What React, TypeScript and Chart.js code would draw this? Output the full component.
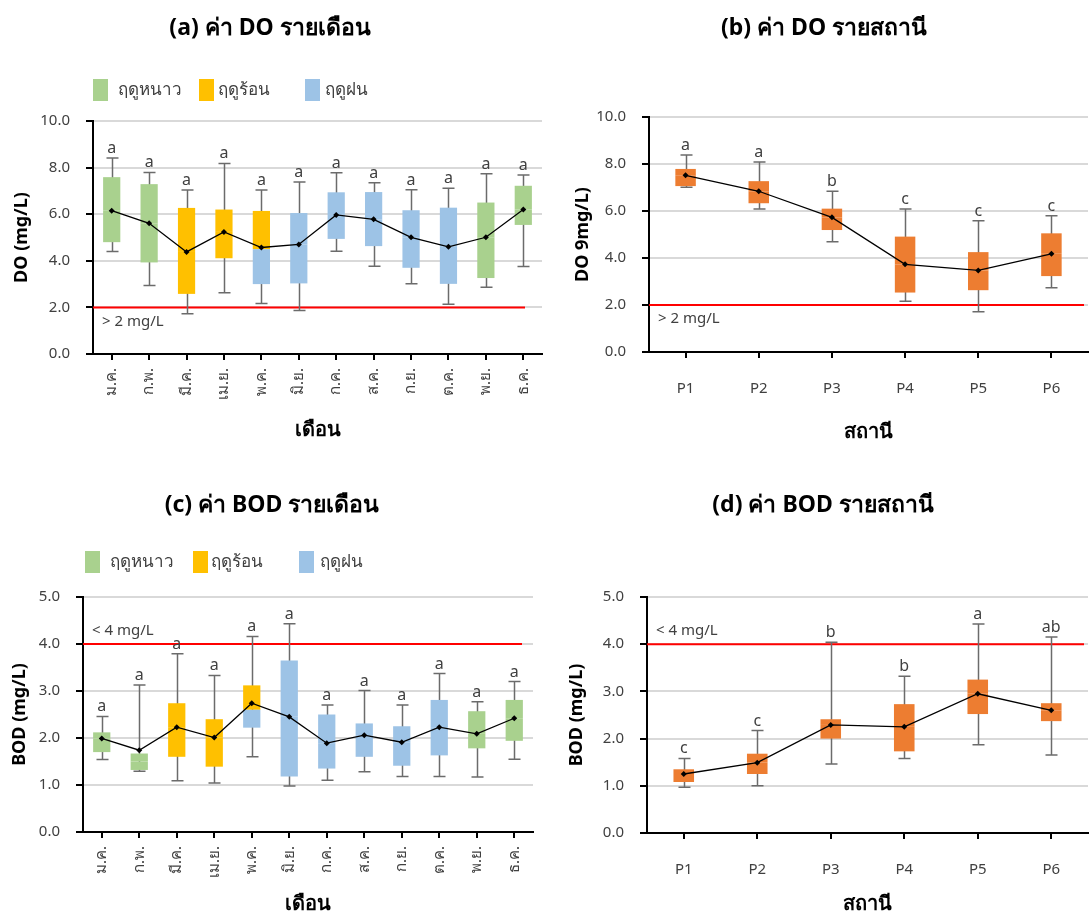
import React, { useEffect, useRef } from 'react';
import { Chart, registerables } from 'chart.js';

Chart.register(...registerables);

const FONT = "'Noto Sans', 'DejaVu Sans', sans-serif";
Chart.defaults.font.family = FONT;

// ---------- categories ----------
const months = ['ม.ค.', 'ก.พ.', 'มี.ค.', 'เม.ย.', 'พ.ค.', 'มิ.ย.', 'ก.ค.', 'ส.ค.', 'ก.ย.', 'ต.ค.', 'พ.ย.', 'ธ.ค.'];
const stations = ['P1', 'P2', 'P3', 'P4', 'P5', 'P6'];

// season of the lower half (Q1..split) and upper half (split..Q3) of each monthly box
const monthLowerSeason = ['cool', 'cool', 'hot', 'hot', 'rain', 'rain', 'rain', 'rain', 'rain', 'rain', 'cool', 'cool'];
const monthUpperSeason = ['cool', 'cool', 'hot', 'hot', 'hot', 'rain', 'rain', 'rain', 'rain', 'rain', 'cool', 'cool'];
const seasonNames = ['ฤดูหนาว', 'ฤดูร้อน', 'ฤดูฝน'];
const seasonKeys = ['cool', 'hot', 'rain'];

// ---------- (a) DO by month ----------
const doMonthMin = [4.40, 2.94, 1.73, 2.63, 2.17, 1.87, 4.41, 3.77, 3.01, 2.13, 2.87, 3.76];
const doMonthQ1 = [4.80, 3.93, 2.58, 4.11, 3.00, 3.03, 4.94, 4.63, 3.70, 3.01, 3.26, 5.54];
const doMonthSplit = [6.15, 5.61, 4.38, 5.24, 4.50, 4.70, 5.97, 5.78, 5.01, 4.60, 5.01, 6.20];
const doMonthQ3 = [7.59, 7.29, 6.27, 6.20, 6.14, 6.05, 6.94, 6.95, 6.17, 6.28, 6.50, 7.22];
const doMonthMax = [8.41, 7.79, 7.04, 8.18, 7.04, 7.38, 7.78, 7.35, 7.05, 7.11, 7.74, 7.68];
const doMonthMean = [6.15, 5.61, 4.38, 5.24, 4.57, 4.70, 5.97, 5.78, 5.01, 4.60, 5.01, 6.20];
const doMonthLetters = ['a', 'a', 'a', 'a', 'a', 'a', 'a', 'a', 'a', 'a', 'a', 'a'];

// ---------- (b) DO by station ----------
const doStationMin = [7.01, 6.09, 4.69, 2.16, 1.71, 2.73];
const doStationQ1 = [7.06, 6.33, 5.19, 2.53, 2.63, 3.23];
const doStationQ3 = [7.79, 7.27, 6.10, 4.91, 4.25, 5.05];
const doStationMax = [8.38, 8.08, 6.84, 6.09, 5.59, 5.80];
const doStationMean = [7.52, 6.84, 5.73, 3.73, 3.47, 4.18];
const doStationLetters = ['a', 'a', 'b', 'c', 'c', 'c'];

// ---------- (c) BOD by month ----------
const bodMonthMin = [1.54, 1.29, 1.09, 1.04, 1.60, 0.98, 1.10, 1.28, 1.18, 1.18, 1.17, 1.55];
const bodMonthQ1 = [1.70, 1.32, 1.60, 1.39, 2.22, 1.18, 1.35, 1.60, 1.41, 1.63, 1.78, 1.94];
const bodMonthSplit = [1.99, 1.50, 2.23, 2.01, 2.60, 2.45, 1.89, 2.06, 1.91, 2.23, 2.09, 2.42];
const bodMonthQ3 = [2.12, 1.67, 2.74, 2.40, 3.12, 3.65, 2.50, 2.31, 2.25, 2.81, 2.57, 2.81];
const bodMonthMax = [2.46, 3.13, 3.79, 3.33, 4.16, 4.43, 2.70, 3.01, 2.70, 3.37, 2.77, 3.20];
const bodMonthMean = [1.99, 1.74, 2.23, 2.01, 2.74, 2.45, 1.89, 2.06, 1.91, 2.23, 2.09, 2.42];
const bodMonthLetters = ['a', 'a', 'a', 'a', 'a', 'a', 'a', 'a', 'a', 'a', 'a', 'a'];

// ---------- (d) BOD by station ----------
const bodStationMin = [0.97, 1.00, 1.46, 1.58, 1.87, 1.65];
const bodStationQ1 = [1.08, 1.25, 2.00, 1.73, 2.52, 2.37];
const bodStationQ3 = [1.35, 1.68, 2.41, 2.73, 3.25, 2.75];
const bodStationMax = [1.58, 2.17, 4.04, 3.32, 4.43, 4.15];
const bodStationMean = [1.25, 1.49, 2.29, 2.25, 2.95, 2.60];
const bodStationLetters = ['c', 'c', 'b', 'b', 'a', 'ab'];

// ---------- styles ----------
const SEASON_COLOR: Record<string, string> = { cool: '#A9D18E', hot: '#FFC000', rain: '#9DC3E6' };
const ORANGE = '#ED7D31';
const TICK_COLOR = '#404040';

const boxPlugin = {
  id: 'boxExtras',
  beforeDatasetsDraw(chart: any, _args: any, o: any) {
    const { ctx, chartArea, scales } = chart;
    const x = scales.x, y = scales.y;
    ctx.save();
    // reference line
    const yr = y.getPixelForValue(o.refValue);
    ctx.strokeStyle = '#FF0000';
    ctx.lineWidth = 2;
    ctx.beginPath();
    ctx.moveTo(chartArea.left, yr);
    ctx.lineTo(chartArea.right - o.refGap, yr);
    ctx.stroke();
    ctx.fillStyle = TICK_COLOR;
    ctx.font = `15px ${FONT}`;
    ctx.textAlign = 'left';
    ctx.textBaseline = 'middle';
    ctx.fillText(o.refLabel, chartArea.left + 9, o.refAbove ? yr - 13 : yr + 14);
    // whiskers
    ctx.strokeStyle = '#6b6b6b';
    ctx.lineWidth = 1.5;
    o.min.forEach((mn: number, i: number) => {
      const px = Math.round(x.getPixelForValue(i)) + 0.5;
      const y1 = y.getPixelForValue(mn);
      const y2 = y.getPixelForValue(o.max[i]);
      ctx.beginPath();
      ctx.moveTo(px, y1);
      ctx.lineTo(px, y2);
      ctx.moveTo(px - o.cap, y1);
      ctx.lineTo(px + o.cap, y1);
      ctx.moveTo(px - o.cap, y2);
      ctx.lineTo(px + o.cap, y2);
      ctx.stroke();
    });
    ctx.restore();
  },
  afterDatasetsDraw(chart: any, _args: any, o: any) {
    const { ctx, scales } = chart;
    const x = scales.x, y = scales.y;
    ctx.save();
    ctx.fillStyle = TICK_COLOR;
    ctx.font = `16px ${FONT}`;
    ctx.textAlign = 'center';
    ctx.textBaseline = 'alphabetic';
    o.letters.forEach((t: string, i: number) => {
      ctx.fillText(t, x.getPixelForValue(i), y.getPixelForValue(o.max[i]) - 5);
    });
    ctx.restore();
  },
  afterDraw(chart: any, _args: any, o: any) {
    const { ctx } = chart;
    ctx.save();
    ctx.fillStyle = '#000';
    ctx.font = `bold 23px ${FONT}`;
    ctx.textAlign = 'center';
    ctx.textBaseline = 'middle';
    ctx.fillText(o.title, o.titleX, o.titleY);
    if (o.legend) {
      ctx.font = `17px ${FONT}`;
      ctx.textAlign = 'left';
      seasonKeys.forEach((k, i) => {
        const lx = o.legend.x[i];
        ctx.fillStyle = SEASON_COLOR[k];
        ctx.fillRect(lx, o.legend.y - 11, 15, 22);
        ctx.fillStyle = TICK_COLOR;
        ctx.fillText(seasonNames[i], lx + o.legend.textGap[i], o.legend.y);
      });
    }
    ctx.restore();
  },
};

type Spec = {
  labels: string[];
  q1: number[];
  split: number[];
  q3: number[];
  min: number[];
  max: number[];
  mean: number[];
  letters: string[];
  lowerColors: string[];
  upperColors: string[];
  yMax: number;
  yStep: number;
  yTitle: string;
  xTitle: string;
  rotate: boolean;
  barPct: number;
  cap: number;
  refValue: number;
  refLabel: string;
  refAbove: boolean;
  refGap: number;
  title: string;
  titleX: number;
  titleY: number;
  legend?: any;
  pad: { right: number; top: number };
  yWidth: number;
  xHeight: number;
  yTitlePad: number;
  xTitlePad: number;
  xTickPad: number;
};

function buildConfig(s: Spec): any {
  const lower = s.labels.map((_, i) => [s.q1[i], s.split[i]]);
  const upper = s.labels.map((_, i) => [s.split[i], s.q3[i]]);
  return {
    type: 'bar',
    data: {
      labels: s.labels,
      datasets: [
        {
          type: 'line',
          data: s.mean,
          borderColor: '#000',
          borderWidth: 1.3,
          pointRadius: 3,
          pointStyle: 'rectRot',
          pointBackgroundColor: '#000',
          pointBorderColor: '#000',
          pointBorderWidth: 0,
          order: 0,
        },
        {
          type: 'bar',
          data: lower,
          backgroundColor: s.lowerColors,
          barPercentage: s.barPct,
          categoryPercentage: 1,
          grouped: false,
          order: 1,
        },
        {
          type: 'bar',
          data: upper,
          backgroundColor: s.upperColors,
          barPercentage: s.barPct,
          categoryPercentage: 1,
          grouped: false,
          order: 1,
        },
      ],
    },
    options: {
      animation: false,
      responsive: true,
      maintainAspectRatio: false,
      layout: { padding: { left: 0, right: s.pad.right, top: s.pad.top, bottom: 0 } },
      plugins: {
        legend: { display: false },
        tooltip: { enabled: false },
        title: { display: false },
        boxExtras: {
          min: s.min,
          max: s.max,
          letters: s.letters,
          cap: s.cap,
          refValue: s.refValue,
          refLabel: s.refLabel,
          refAbove: s.refAbove,
          refGap: s.refGap,
          title: s.title,
          titleX: s.titleX,
          titleY: s.titleY,
          legend: s.legend,
        },
      },
      scales: {
        x: {
          offset: true,
          grid: { drawOnChartArea: false, offset: false, tickLength: 6, tickColor: '#000', lineWidth: 2 },
          border: { color: '#000', width: 2 },
          ticks: {
            color: TICK_COLOR,
            font: { size: 15 },
            padding: s.xTickPad,
            autoSkip: false,
            maxRotation: s.rotate ? 90 : 0,
            minRotation: s.rotate ? 90 : 0,
          },
          title: {
            display: true,
            text: s.xTitle,
            color: '#000',
            font: { size: 20, weight: 'bold' },
            padding: { top: 0, bottom: s.xTitlePad },
          },
          afterFit: (sc: any) => {
            sc.height = s.xHeight;
            sc.paddingLeft = 0;
            sc.paddingRight = 0;
          },
        },
        y: {
          min: 0,
          max: s.yMax,
          grid: { color: '#D9D9D9', lineWidth: 2, tickLength: 7, tickColor: '#000' },
          border: { color: '#000', width: 2 },
          ticks: {
            stepSize: s.yStep,
            color: TICK_COLOR,
            font: { size: 15 },
            padding: 16,
            callback: (v: any) => Number(v).toFixed(1),
          },
          title: {
            display: true,
            text: s.yTitle,
            color: '#000',
            font: { size: 18, weight: 'bold' },
            padding: { top: s.yTitlePad, bottom: 0 },
          },
          afterFit: (sc: any) => {
            sc.width = s.yWidth;
            sc.paddingTop = 0;
            sc.paddingBottom = 0;
          },
        },
      },
    },
    plugins: [boxPlugin],
  };
}

const orange6 = stations.map(() => ORANGE);

const specA: Spec = {
  labels: months,
  q1: doMonthQ1,
  split: doMonthSplit,
  q3: doMonthQ3,
  min: doMonthMin,
  max: doMonthMax,
  mean: doMonthMean,
  letters: doMonthLetters,
  lowerColors: monthLowerSeason.map((k) => SEASON_COLOR[k]),
  upperColors: monthUpperSeason.map((k) => SEASON_COLOR[k]),
  yMax: 10,
  yStep: 2,
  yTitle: 'DO (mg/L)',
  xTitle: 'เดือน',
  rotate: true,
  barPct: 0.46,
  cap: 6,
  refValue: 2,
  refLabel: '> 2 mg/L',
  refAbove: false,
  refGap: 17,
  title: '(a) ค่า DO รายเดือน',
  titleX: 270,
  titleY: 28,
  legend: { x: [93, 199, 305], y: 90, textGap: [25, 19, 20] },
  pad: { right: 1, top: 121 },
  yWidth: 93,
  xHeight: 105,
  yTitlePad: 11,
  xTitlePad: 17,
  xTickPad: 8,
};

const specB: Spec = {
  labels: stations,
  q1: doStationQ1,
  split: doStationMean,
  q3: doStationQ3,
  min: doStationMin,
  max: doStationMax,
  mean: doStationMean,
  letters: doStationLetters,
  lowerColors: orange6,
  upperColors: orange6,
  yMax: 10,
  yStep: 2,
  yTitle: 'DO 9mg/L)',
  xTitle: 'สถานี',
  rotate: false,
  barPct: 0.28,
  cap: 6,
  refValue: 2,
  refLabel: '> 2 mg/L',
  refAbove: false,
  refGap: 4,
  title: '(b) ค่า DO รายสถานี',
  titleX: 278,
  titleY: 28,
  pad: { right: 3, top: 117 },
  yWidth: 103,
  xHeight: 107,
  yTitlePad: 26,
  xTitlePad: 15,
  xTickPad: 22,
};

const specC: Spec = {
  labels: months,
  q1: bodMonthQ1,
  split: bodMonthSplit,
  q3: bodMonthQ3,
  min: bodMonthMin,
  max: bodMonthMax,
  mean: bodMonthMean,
  letters: bodMonthLetters,
  lowerColors: monthLowerSeason.map((k) => SEASON_COLOR[k]),
  upperColors: monthUpperSeason.map((k) => SEASON_COLOR[k]),
  yMax: 5,
  yStep: 1,
  yTitle: 'BOD (mg/L)',
  xTitle: 'เดือน',
  rotate: true,
  barPct: 0.46,
  cap: 6,
  refValue: 4,
  refLabel: '< 4 mg/L',
  refAbove: true,
  refGap: 11,
  title: '(c) ค่า BOD รายเดือน',
  titleX: 272,
  titleY: 46,
  legend: { x: [85, 193, 299], y: 103, textGap: [25, 18, 21] },
  pad: { right: 13, top: 138 },
  yWidth: 83,
  xHeight: 86,
  yTitlePad: 9,
  xTitlePad: 2,
  xTickPad: 8,
};

const specD: Spec = {
  labels: stations,
  q1: bodStationQ1,
  split: bodStationMean,
  q3: bodStationQ3,
  min: bodStationMin,
  max: bodStationMax,
  mean: bodStationMean,
  letters: bodStationLetters,
  lowerColors: orange6,
  upperColors: orange6,
  yMax: 5,
  yStep: 1,
  yTitle: 'BOD (mg/L)',
  xTitle: 'สถานี',
  rotate: false,
  barPct: 0.28,
  cap: 6,
  refValue: 4,
  refLabel: '< 4 mg/L',
  refAbove: true,
  refGap: 4,
  title: '(d) ค่า BOD รายสถานี',
  titleX: 277,
  titleY: 46,
  pad: { right: 0, top: 138 },
  yWidth: 101,
  xHeight: 85,
  yTitlePad: 20,
  xTitlePad: 2,
  xTickPad: 22,
};

function BoxChart({ spec, left, top }: { spec: Spec; left: number; top: number }) {
  const ref = useRef<HTMLCanvasElement>(null);
  useEffect(() => {
    const chart = new Chart(ref.current as HTMLCanvasElement, buildConfig(spec));
    return () => chart.destroy();
  }, [spec]);
  return (
    <div style={{ position: 'absolute', left, top, width: 546, height: 459 }}>
      <canvas ref={ref} />
    </div>
  );
}

export default function App() {
  return (
    <div style={{ position: 'absolute', left: 0, top: 0, width: 1092, height: 918, background: '#fff' }}>
      <BoxChart spec={specA} left={0} top={0} />
      <BoxChart spec={specB} left={546} top={0} />
      <BoxChart spec={specC} left={0} top={459} />
      <BoxChart spec={specD} left={546} top={459} />
    </div>
  );
}
